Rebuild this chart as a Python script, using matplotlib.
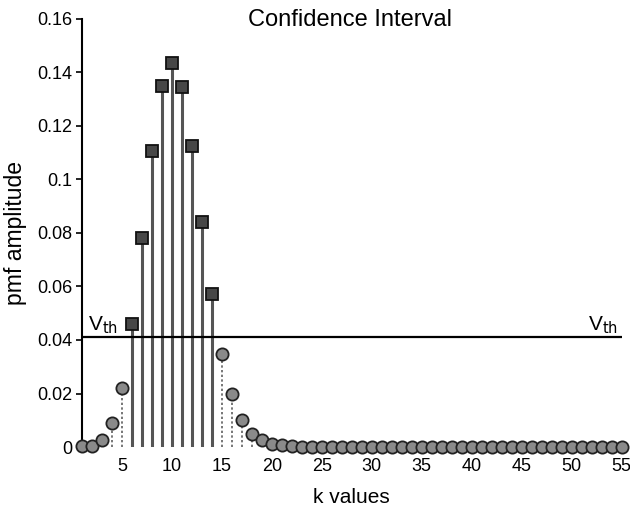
import matplotlib.pyplot as plt
import numpy as np

plt.rcParams['font.family'] = ['Liberation Sans', 'DejaVu Sans']

# k values and pmf amplitudes
k_vals = np.arange(1, 56)
pmf = [0.0004, 0.0005, 0.0025, 0.009, 0.022,
       0.046, 0.078, 0.1107, 0.135, 0.1436, 0.1346, 0.1126, 0.0842, 0.0572,
       0.0348, 0.0198, 0.0101, 0.005, 0.0026, 0.0013, 0.0006, 0.0003] + [0.0] * 33
pmf = np.array(pmf)
v_th = 0.041

inside = pmf >= v_th
outside = ~inside

fig = plt.figure(figsize=(6.3, 5.09), dpi=100)
ax = fig.add_axes([0.130, 0.1218, 0.857, 0.8409])

# stems
ax.vlines(k_vals[inside], 0, pmf[inside], color='#555555', lw=2.2, zorder=2)
ax.vlines(k_vals[outside], 0, pmf[outside], color='#777777', lw=1.4,
          linestyles=(0, (1.2, 1.2)), zorder=2)

# markers
ax.plot(k_vals[outside], pmf[outside], 'o', ms=8.8, mfc='#8a8a8a', mec='#222222',
        mew=1.3, clip_on=False, zorder=3)
ax.plot(k_vals[inside], pmf[inside], 's', ms=8.2, mfc='#474747', mec='#111111',
        mew=1.3, clip_on=False, zorder=3)

# threshold line
ax.plot([1, 55], [v_th, v_th], color='black', lw=1.6, zorder=4)
ax.text(1.6, v_th + 0.0025, r'V$_{\mathrm{th}}$', fontsize=15)
ax.text(51.6, v_th + 0.0025, r'V$_{\mathrm{th}}$', fontsize=15)

ax.set_xlim(1, 55)
ax.set_ylim(0, 0.16)
ax.set_xticks([5, 10, 15, 20, 25, 30, 35, 40, 45, 50, 55])
ax.set_yticks([0, 0.02, 0.04, 0.06, 0.08, 0.1, 0.12, 0.14, 0.16])
ax.set_yticklabels(['0', '0.02', '0.04', '0.06', '0.08', '0.1', '0.12', '0.14', '0.16'])
ax.tick_params(axis='x', length=0, labelsize=13, pad=8)
ax.tick_params(axis='y', length=4, width=1.2, labelsize=13, pad=3)

for side in ['top', 'right', 'bottom']:
    ax.spines[side].set_visible(False)
ax.spines['left'].set_linewidth(1.5)

fig.text(0.556, 1 - 20 / 509, 'Confidence Interval', fontsize=17, ha='center', va='center')
ax.set_xlabel('k values', fontsize=15, labelpad=9)
ax.set_ylabel('pmf amplitude', fontsize=16.5, labelpad=7)

plt.savefig('out.png', dpi=100)
